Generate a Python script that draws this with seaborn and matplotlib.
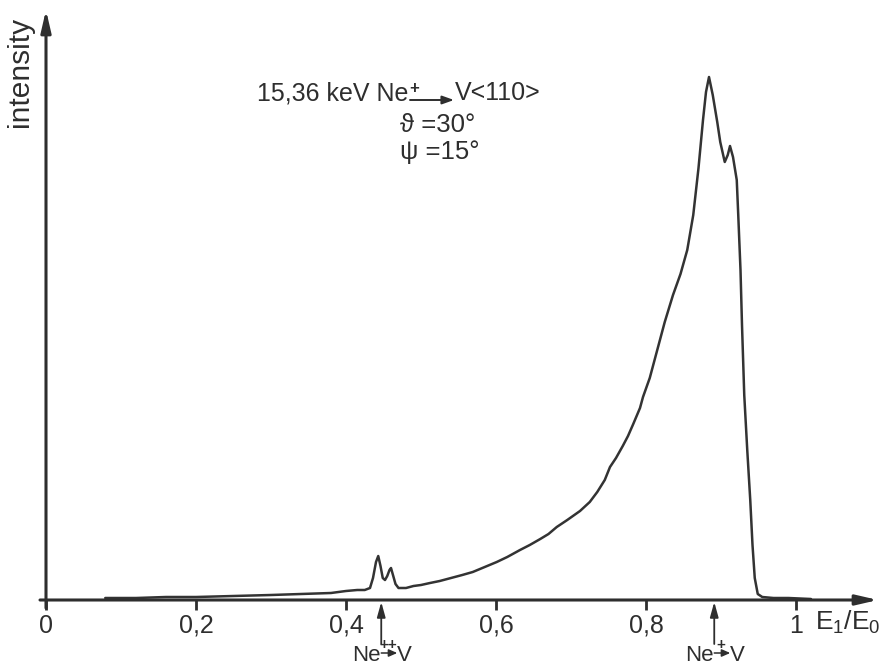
import matplotlib
matplotlib.use("Agg")
import matplotlib.pyplot as plt
import seaborn as sns

# ---- data ----
energy = [0.079, 0.12, 0.16, 0.20, 0.25, 0.30, 0.34, 0.38, 0.40, 0.415, 0.425,
          0.432, 0.436, 0.440, 0.443, 0.446, 0.449, 0.452, 0.455, 0.458, 0.460,
          0.463, 0.466, 0.470, 0.48, 0.49, 0.50, 0.512, 0.525, 0.54, 0.555,
          0.569, 0.585, 0.601, 0.615, 0.632, 0.645, 0.659, 0.67, 0.681, 0.695,
          0.712, 0.725, 0.735, 0.745, 0.752, 0.76, 0.769, 0.776, 0.783, 0.792,
          0.796, 0.805, 0.815, 0.825, 0.836, 0.846, 0.855, 0.863, 0.870, 0.876,
          0.880, 0.884, 0.889, 0.895, 0.899, 0.905, 0.909, 0.912, 0.916, 0.921,
          0.923, 0.926, 0.928, 0.931, 0.935, 0.939, 0.942, 0.945, 0.949, 0.955,
          0.97, 0.99, 1.02]
intensity = [2, 2, 3, 3, 4, 5, 6, 7, 9, 10, 10,
             12, 22, 38, 44, 34, 22, 20, 24, 30, 32,
             24, 16, 12, 12, 14, 15, 17, 19, 22, 25,
             28, 33, 38, 43, 50, 55, 61, 66, 73, 80,
             89, 98, 108, 120, 133, 142, 154, 164, 176, 192,
             203, 222, 250, 278, 305, 326, 350, 385, 432, 480,
             508, 523, 505, 478, 458, 438, 445, 454, 443, 420,
             385, 330, 275, 205, 150, 100, 55, 22, 6, 3,
             2, 2, 1]

tick_values = [0, 0.2, 0.4, 0.6, 0.8, 1.0]
tick_labels = ["0", "0,2", "0,4", "0,6", "0,8", "1"]

marker_pos = [0.447, 0.891]
marker_charges = ["++", "+"]

title_left = "15,36 keV Ne"
title_charge = "+"
title_right = "V<110>"
title_line2 = "\u03d1 =30\u00b0"
title_line3 = "\u03c8 =15\u00b0"

# ---- style ----
sns.set_theme(style="white")
plt.rcParams["font.family"] = ["Liberation Sans", "DejaVu Sans"]
plt.rcParams["mathtext.fontset"] = "custom"
plt.rcParams["mathtext.rm"] = "Liberation Sans"
plt.rcParams["mathtext.it"] = "Liberation Sans"

ink = "#2e2e2e"
px = 1 / 750  # one reference pixel in x data units

fig = plt.figure(figsize=(8.82, 6.70), dpi=100)
ax = fig.add_axes([46 / 882, 70 / 670, 832 / 882, 590 / 670])
ax.set_xlim(0, 832 / 750)
ax.set_ylim(0, 590)

sns.lineplot(x=energy, y=intensity, color="#333333", linewidth=1.8, ax=ax,
             estimator=None)

for s in ax.spines.values():
    s.set_visible(False)

# axes with arrow heads
arrow_kw = dict(arrowstyle="-|>,head_length=1.3,head_width=0.3",
                color=ink, lw=2.2, mutation_scale=10, shrinkA=0, shrinkB=0)
ax.annotate("", xy=(1.0, 0), xytext=(-6 / 832, 0), xycoords="axes fraction",
            textcoords="axes fraction", arrowprops=arrow_kw, annotation_clip=False)
ax.annotate("", xy=(0, 1.0), xytext=(0, -8 / 590), xycoords="axes fraction",
            textcoords="axes fraction", arrowprops=arrow_kw, annotation_clip=False)

ax.set_xticks(tick_values)
ax.set_xticklabels(tick_labels, fontsize=18, color=ink)
ax.set_yticks([])
ax.tick_params(axis="x", direction="out", length=7, width=2, color=ink, pad=3,
               bottom=True)

ax.set_ylabel("intensity", fontsize=21.5, color=ink)
ax.yaxis.set_label_coords(-26 / 832, 1 - 62 / 590)
ax.yaxis.label.set_va("center")

ax.text(1.025, -22, r"E$_1$/E$_0$", fontsize=19, color=ink, ha="left",
        va="center", clip_on=False)

small_arrow = dict(arrowstyle="-|>,head_length=0.5,head_width=0.22",
                   color=ink, lw=1.1, mutation_scale=10, shrinkA=0, shrinkB=0)

# marker arrows below the axis with their labels
for xp, ch in zip(marker_pos, marker_charges):
    ax.annotate("", xy=(xp, -2), xytext=(xp, -44), xycoords="data",
                arrowprops=dict(arrowstyle="-|>,head_length=0.9,head_width=0.25",
                                color=ink, lw=1.3, mutation_scale=10,
                                shrinkA=0, shrinkB=0),
                annotation_clip=False)
    base = -61
    ax.text(xp - 1 * px, base, "Ne", fontsize=16, color=ink, ha="right",
            va="baseline", clip_on=False)
    ax.text(xp + 7 * px, -45, ch, fontsize=11, color=ink, ha="center",
            va="center", fontweight="bold", clip_on=False)
    ax.annotate("", xy=(xp + 16 * px, -53), xytext=(xp, -53), xycoords="data",
                arrowprops=small_arrow, annotation_clip=False)
    ax.text(xp + 16 * px, base, "V", fontsize=16, color=ink, ha="left",
            va="baseline", clip_on=False)

# title block
tx_ne = (408 - 46) * px
tx_v = (454 - 46) * px
ax.text(tx_ne, 500, title_left, fontsize=18, color=ink, ha="right", va="baseline")
ax.text(tx_ne + 6 * px, 511, title_charge, fontsize=12, color=ink, ha="center",
        va="center", fontweight="bold")
ax.annotate("", xy=(tx_v, 500), xytext=(tx_ne + 2 * px, 500), xycoords="data",
            arrowprops=dict(arrowstyle="-|>,head_length=0.7,head_width=0.25",
                            color=ink, lw=1.4, mutation_scale=10,
                            shrinkA=0, shrinkB=0))
ax.text(tx_v + 1 * px, 500, title_right, fontsize=18, color=ink, ha="left",
        va="baseline")
ax.text((400 - 46) * px, 468, title_line2, fontsize=18.5, color=ink, ha="left",
        va="baseline")
ax.text((400 - 46) * px, 441, title_line3, fontsize=18.5, color=ink, ha="left",
        va="baseline")

fig.savefig("out.png", dpi=100, facecolor="white")
